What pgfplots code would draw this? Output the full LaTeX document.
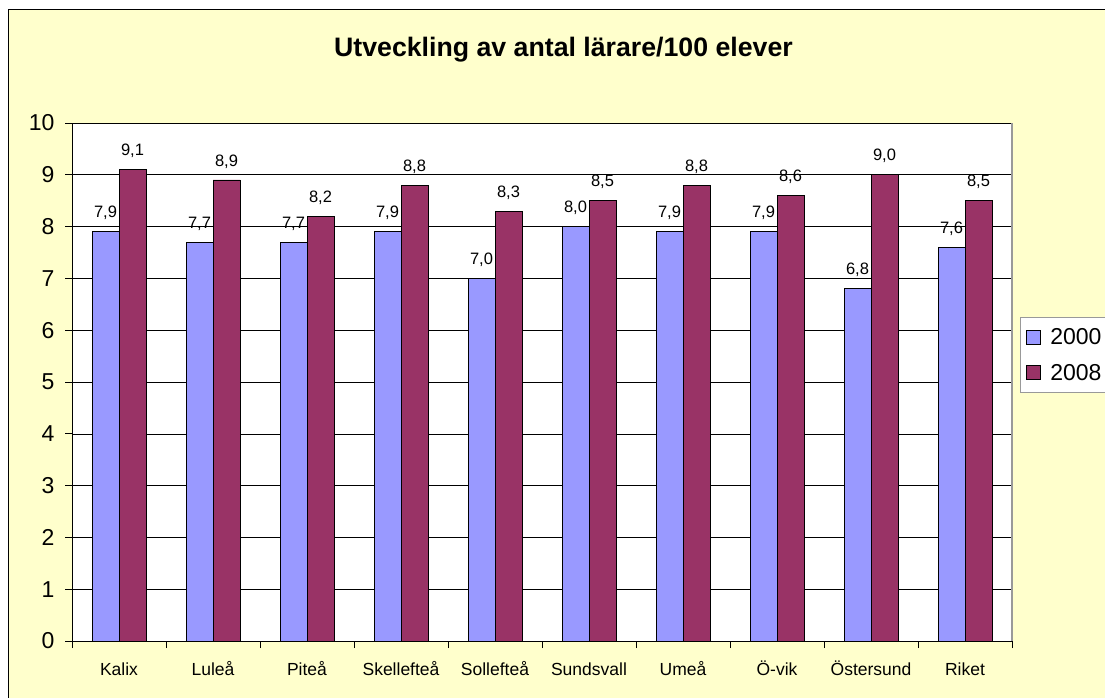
\documentclass[border=0pt]{standalone}
\usepackage{pgfplots}
\pgfplotsset{compat=1.18}
\usetikzlibrary{backgrounds}
\usepackage{fontspec}
\setmainfont{Liberation Sans}
\definecolor{c2000}{HTML}{9999FF}
\definecolor{c2008}{HTML}{993366}
\definecolor{bgy}{HTML}{FFFFCC}
\begin{document}
\begin{tikzpicture}[x=1pt,y=1pt]
\begin{axis}[at={(72pt,56pt)},anchor=south west, scale only axis, width=940pt, height=518pt,
 ybar=0pt, bar width=27pt, ymin=0, ymax=10, xmin=-0.5, xmax=9.5,
 axis background/.style={fill=white},
 axis x line=bottom, axis y line=left, axis line style={-,black,line width=0.8pt},
 ytick={0,...,10}, ymajorgrids, grid style={black,line width=0.6pt},
 xtick={0,...,9},
 xticklabels={Kalix,Luleå,Piteå,Skellefteå,Sollefteå,Sundsvall,Umeå,Ö-vik,Östersund,Riket},
 major x tick style={draw=none},
 minor xtick={-0.5,0.5,...,9.5},
 tick align=outside, major tick length=7pt, minor tick length=7pt,
 tick style={black,line width=0.8pt},
 /pgf/number format/assume math mode=true,
 yticklabel style={font=\fontsize{23}{26}\selectfont, xshift=-7pt},
 xticklabel style={font=\fontsize{17.5}{20}\selectfont, text height=14pt, text depth=4pt, yshift=-9.5pt},
 nodes near coords,
 nodes near coords style={font=\fontsize{16.5}{19}\selectfont, yshift=8pt,
   /pgf/number format/.cd, fixed, fixed zerofill, precision=1, use comma, assume math mode=true},
 legend style={at={(1,0.6255)}, anchor=north west, xshift=8pt, draw=gray!80, line width=1pt,
   font=\fontsize{23}{26}\selectfont, row sep=14pt, inner xsep=5pt, inner ysep=9pt},
 legend cell align=left,
 legend image code/.code={\draw[#1,draw=black,line width=0.8pt] (2pt,-7pt) rectangle (16pt,7pt); \path (24pt,0pt);},
]
\addplot[fill=c2000,draw=black,line width=0.8pt] coordinates {(0,7.9) (1,7.7) (2,7.7) (3,7.9) (4,7.0) (5,8.0) (6,7.9) (7,7.9) (8,6.8) (9,7.6)};
\addplot[fill=c2008,draw=black,line width=0.8pt] coordinates {(0,9.1) (1,8.9) (2,8.2) (3,8.8) (4,8.3) (5,8.5) (6,8.8) (7,8.6) (8,9.0) (9,8.5)};
\legend{2000,2008}
\end{axis}
\draw[gray!80,line width=1.5pt] (1012pt,56pt) -- (1012pt,574pt);
\node[font=\fontsize{26.7}{30}\selectfont\bfseries] at (563.5pt,647pt) {Utveckling av antal lärare/100 elever};
\begin{scope}[on background layer]
\fill[white] (0pt,0pt) rectangle (1105pt,697pt);
\filldraw[fill=bgy,draw=black,line width=1pt] (8pt,-5pt) rectangle (1115pt,687pt);
\end{scope}
\pgfresetboundingbox
\useasboundingbox (0pt,0pt) rectangle (1105pt,697pt);
\end{tikzpicture}
\end{document}
